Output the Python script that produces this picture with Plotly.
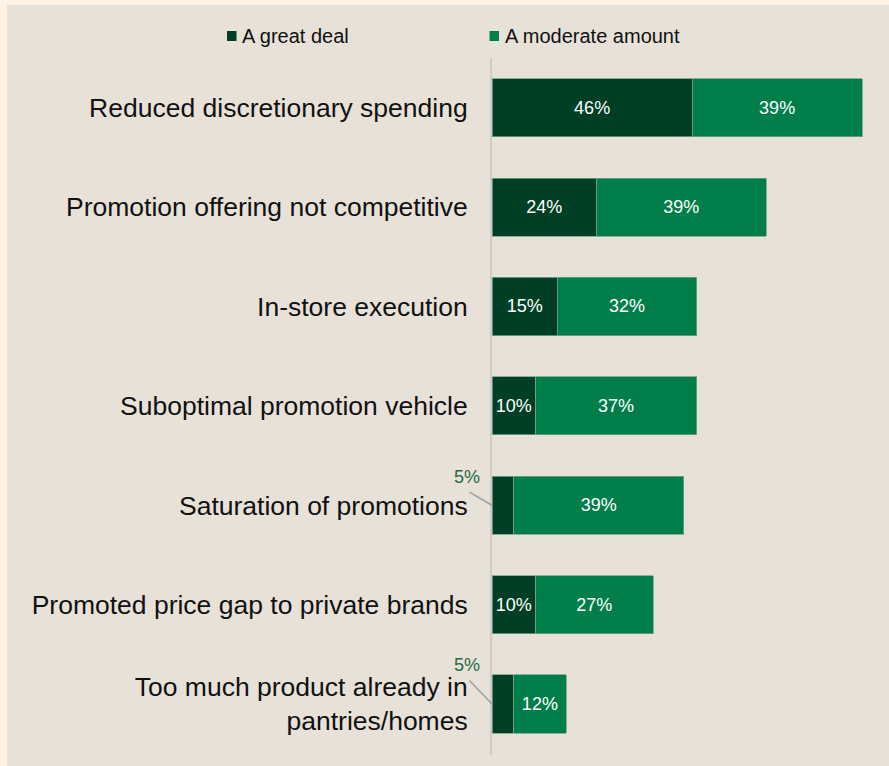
import plotly.graph_objects as go

# Survey data: share of respondents citing each barrier
categories = [
    "Reduced discretionary spending",
    "Promotion offering not competitive",
    "In-store execution",
    "Suboptimal promotion vehicle",
    "Saturation of promotions",
    "Promoted price gap to private brands",
    "Too much product already in<br>pantries/homes",
]
great_deal = [46, 24, 15, 10, 5, 10, 5]
moderate_amount = [39, 39, 32, 37, 39, 27, 12]
series_names = ["A great deal", "A moderate amount"]

DARK = "#003F25"
MID = "#007E4A"
BEIGE = "#E8E1D8"
CREAM = "#FFF2E2"
LABEL_GREEN = "#1F6B45"
FONT = "Liberation Sans, Arial, sans-serif"

W, H = 889, 766
ML, MR, MT, MB = 492, 20, 58, 11
PW, PH = W - ML - MR, H - MT - MB
PX_PER_PCT = 4.353


def px_x(px):
    return (px - ML) / PW


def px_y(py):
    return (H - MB - py) / PH


def inside_labels(vals):
    # small segments get an outside label with a leader line instead
    return [f"{v}%" if v >= 10 else "" for v in vals]


fig = go.Figure()
for name, vals, color in [(series_names[0], great_deal, DARK),
                          (series_names[1], moderate_amount, MID)]:
    fig.add_trace(go.Bar(
        y=categories, x=vals, name=name, orientation="h",
        marker=dict(color=color, line=dict(color="#6FA58A", width=0.8)),
        text=inside_labels(vals), textposition="inside",
        insidetextanchor="middle",
        textfont=dict(family=FONT, size=18, color="white"),
        width=0.585, showlegend=False, hoverinfo="skip",
    ))

annotations = []
shapes = [
    dict(type="rect", xref="paper", yref="paper", layer="below",
         x0=px_x(0), x1=px_x(7), y0=px_y(H), y1=px_y(0),
         fillcolor=CREAM, line=dict(width=0)),
    dict(type="rect", xref="paper", yref="paper", layer="below",
         x0=px_x(0), x1=px_x(W), y0=px_y(5), y1=px_y(0),
         fillcolor=CREAM, line=dict(width=0)),
]

# Outside labels with leader lines for the narrow segments
leader_offsets = {4: (-24, -14, -25, -28), 6: (-24, -25, -25, -39)}
for i, v in enumerate(great_deal):
    if v < 10:
        ax, ay, tx, ty = leader_offsets[i]
        annotations.append(dict(
            x=0, y=categories[i], xref="x", yref="y", text="",
            showarrow=True, arrowhead=0, arrowwidth=1.6, arrowcolor="#A0A0A0",
            ax=ax, ay=ay, standoff=0, startstandoff=0,
        ))
        annotations.append(dict(
            x=0, y=categories[i], xref="x", yref="y", text=f"{v}%",
            showarrow=False, xshift=tx, yshift=-ty,
            font=dict(family=FONT, size=18, color=LABEL_GREEN),
        ))

# Legend drawn as squares + text
for name, color, sq_x in [(series_names[0], DARK, 227), (series_names[1], MID, 489.5)]:
    shapes.append(dict(type="rect", xref="paper", yref="paper",
                       x0=px_x(sq_x), x1=px_x(sq_x + 9.5), y0=px_y(41), y1=px_y(31),
                       fillcolor=color, line=dict(width=0)))
    annotations.append(dict(
        x=px_x(sq_x + 13), y=px_y(36), xref="paper", yref="paper",
        xanchor="left", yanchor="middle", showarrow=False, text=name,
        font=dict(family=FONT, size=20, color="#111111"),
    ))

fig.update_layout(
    barmode="stack",
    width=W, height=H,
    margin=dict(l=ML, r=MR, t=MT, b=MB, pad=0),
    paper_bgcolor=BEIGE, plot_bgcolor=BEIGE,
    shapes=shapes, annotations=annotations,
    uniformtext=dict(minsize=18, mode="show"),
    xaxis=dict(range=[0, PW / PX_PER_PCT], visible=False, fixedrange=True),
    yaxis=dict(
        autorange="reversed", showgrid=False, zeroline=False,
        showline=True, linecolor="#CFCAC3", linewidth=2,
        ticks="", ticklabelstandoff=17,
        tickfont=dict(family=FONT, size=26.5, color="#111111"),
    ),
)

fig.write_html("out.html")
